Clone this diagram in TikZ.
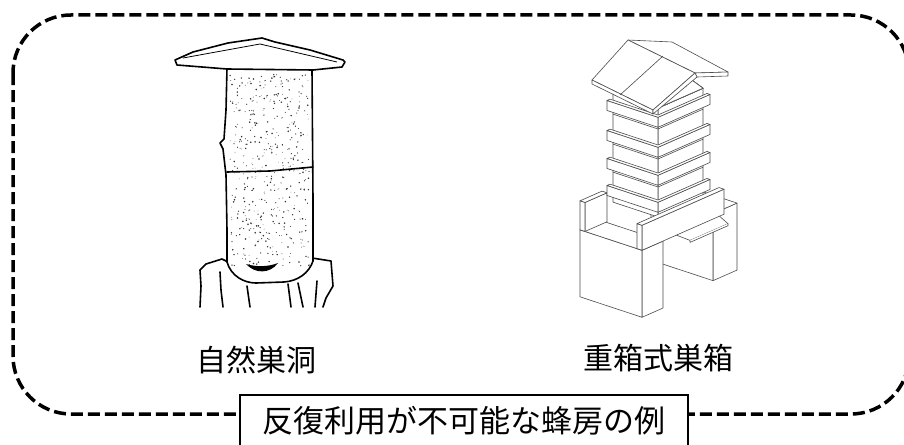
\documentclass[tikz,border=0pt]{standalone}
\usepackage{fontspec}
\newfontfamily\jp{Noto Sans CJK JP}
\usetikzlibrary{calc}
\colorlet{hiveline}{black!70}
\tikzstyle{frame}=[line width=3.5,dash pattern=on 12pt off 5pt,rounded corners=58]
\tikzstyle{rough}=[line width=1.6,line join=round,line cap=round]
\tikzstyle{hive}=[draw=hiveline,fill=white,line width=0.6,line join=round]
\tikzstyle{jplabel}=[font=\jp\fontsize{30}{30}\selectfont,inner sep=0]
\tikzstyle{captionbox}=[draw,fill=white,line width=1.2,font=\jp\fontsize{31}{31}\selectfont,
  minimum width=448,minimum height=52,inner sep=0]
\newcommand{\cuboid}[6]{% a0 a1 b0 b1 c0 c1
  \draw[hive] (#1,#3,#5) -- (#1,#4,#5) -- (#1,#4,#6) -- (#1,#3,#6) -- cycle;
  \draw[hive] (#1,#3,#5) -- (#2,#3,#5) -- (#2,#3,#6) -- (#1,#3,#6) -- cycle;
  \draw[hive] (#1,#3,#6) -- (#2,#3,#6) -- (#2,#4,#6) -- (#1,#4,#6) -- cycle;
}
\newcommand{\band}[1]{% centre height
  \draw[hive] (-3,-3,#1-5) -- (-3,49,#1-5) -- (-3,49,#1+5) -- (-3,-3,#1+5) -- cycle;
  \draw[hive] (-3,-3,#1-5) -- (48,-3,#1-5) -- (48,-3,#1+5) -- (-3,-3,#1+5) -- cycle;
  \draw[hive] (-3,-3,#1+5) -- (48,-3,#1+5) -- (48,0,#1+5) -- (0,0,#1+5) -- (0,49,#1+5) -- (-3,49,#1+5) -- cycle;
}

\begin{document}
\begin{tikzpicture}[x=1pt,y=-1pt]
  \useasboundingbox (0,0) rectangle (904,444);
  \clip (0,0) rectangle (904,444);

  % FRAME
  \coordinate (NW) at (13,15);
  \coordinate (SE) at (909,414);
  \draw[frame] (NW) rectangle (SE);

  % BASE
  \draw[rough] (200,307) -- (201,286) -- (200,270) -- (206,264) -- (222,259) -- (228,262);
  \draw[rough] (312,258) -- (331,261) -- (333,286) -- (326,298) -- (323,307);
  \draw[rough] (220,272) -- (221,290) -- (223,307);
  \draw[rough] (247,286) -- (250,307);
  \draw[rough] (288,284) -- (291,307);
  \draw[rough] (298,283) -- (303,307);
  \draw[rough] (317,281) -- (315,307);

  % LOG
  \draw[rough,fill=white] (227,68) -- (226,110) -- (224,139) -- (220,143) -- (223,149) -- (226,175)
    -- (227,230) -- (227,262) .. controls (231,276) and (244,283) .. (256,283) -- (284,282)
    .. controls (298,281) and (309,273) .. (313,261) -- (313,200) -- (312,70);
  \pgfmathsetseed{31}
  \foreach \i in {1,...,480}{
    \pgfmathsetmacro\px{230+80*rnd}
    \pgfmathsetmacro\py{74+192*rnd}
    \pgfmathsetmacro\pr{0.3+0.6*rnd}
    \fill[black!80] (\px,\py) circle (\pr);
  }
  \draw[rough] (227,172) -- (270,171) -- (313,167);
  \fill (246,264) .. controls (255,274) and (270,274) .. (278,263) .. controls (268,267) and (256,267) .. cycle;

  % SLAB
  \draw[rough,fill=white] (175,60) -- (193,52) -- (228,43) -- (262,38) -- (275,42) -- (310,50)
    -- (343,60) -- (345,62) -- (342,67) -- (313,70) -- (227,69) -- (177,65) -- cycle;
  \draw[line width=0.8] (183,58) -- (260,44) -- (337,62);

  % HIVE
  \begin{scope}[shift={(658,217)},x={(-1pt,0.33pt)},y={(1pt,0.44pt)},z={(0pt,1pt)}]
    \cuboid{-5}{57}{50}{74}{-84}{-17}
    \cuboid{-12}{50}{-28}{-7}{-84}{-17}
    \draw[hive] (-12,4,-15) -- (-12,48,-15) -- (-24,46,-19) -- (-24,8,-19) -- cycle;
    \draw[hive] (-24,8,-19) -- (-24,8,-21) -- (-24,46,-21) -- (-24,46,-19);
    \cuboid{45}{50}{-28}{-6}{-17}{12}
    \cuboid{0}{45}{0}{45}{0}{109}
    \foreach \c in {39,67,97}
      \draw[hiveline,line width=0.6] (45,0,\c-9) -- (0,0,\c-9) -- (0,45,\c-9);
    \foreach \c in {12,39,67,97}
      \band{\c}
    \draw[hive] (0,0,109) -- (0,45,109) -- (0,27,130) -- cycle;
    \cuboid{-12}{-7}{-28}{54}{-17}{8}
  \end{scope}

  % ROOF
  \draw[hive] (628,40) -- (672,42) -- (728,72) -- (695,73) -- cycle;
  \draw[hive] (695,73) -- (728,72) -- (728,76) -- (697,77) -- cycle;
  \draw[hive] (676,84) -- (686,77) -- (686,87);
  \draw[hive] (628,40) -- (592,80) -- (653,110) -- (695,73) -- cycle;
  \draw[hive] (592,80) -- (592,84) -- (653,114) -- (653,110) -- cycle;
  \draw[hive] (653,110) -- (653,114) -- (697,77) -- (695,73) -- cycle;
  \draw[hiveline,line width=0.6] (663,56) -- (620,95);

  % LABELS
  \node[jplabel] (natlabel) at (256,360) {自然巣洞};
  \node[jplabel] (hivelabel) at (658,358) {重箱式巣箱};
  \node[captionbox] (caption) at (464,421) {反復利用が不可能な蜂房の例};
\end{tikzpicture}
\end{document}
